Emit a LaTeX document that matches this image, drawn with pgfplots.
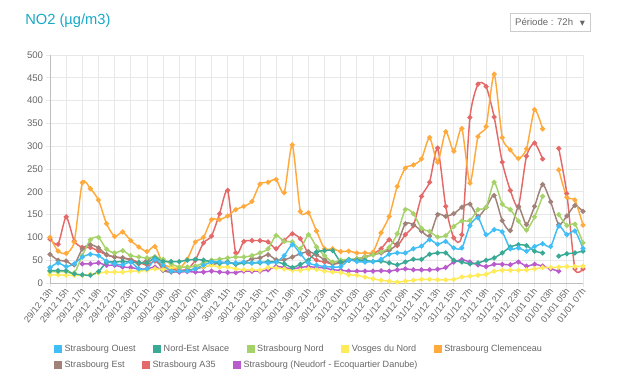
\documentclass[border=0pt]{standalone}
\usepackage{pgfplots}
\usepackage{pgfplotstable}
\pgfplotsset{compat=1.18}
\usepackage{fontspec}
\setmainfont{Liberation Sans}
\newfontfamily\dejavu{DejaVu Sans}

\definecolor{cOuest}{RGB}{64,190,245}
\definecolor{cNEA}{RGB}{58,170,150}
\definecolor{cNord}{RGB}{165,210,105}
\definecolor{cVosges}{RGB}{255,234,90}
\definecolor{cClem}{RGB}{255,170,60}
\definecolor{cEst}{RGB}{160,130,120}
\definecolor{cA35}{RGB}{228,105,105}
\definecolor{cNeud}{RGB}{185,90,205}
\definecolor{txtgray}{RGB}{102,102,102}
\definecolor{gridgray}{RGB}{232,232,232}
\definecolor{titlecyan}{RGB}{23,169,198}

\pgfplotstableread{
i ouest nea nord vosges clem est a35 neud
0 34 27 25 18 100 63 96 nan
1 44 27 25 18 70 50 85 nan
2 36 27 25 17 65 48 145 nan
3 42 20 22 17 90 40 92 nan
4 57 18 60 17 220 75 78 42
5 63 17 95 19 207 84 78 42
6 60 25 100 22 182 77 70 44
7 48 45 74 24 130 62 62 39
8 42 46 66 24 102 57 57 39
9 40 47 71 24 112 55 55 35
10 46 46 60 26 93 50 52 34
11 31 45 57 26 79 42 45 31
12 31 44 55 28 69 50 40 31
13 51 55 57 31 80 57 48 35
14 39 47 52 30 42 28 35 28
15 26 47 42 33 35 24 30 25
16 26 47 35 35 32 26 28 24
17 26 50 35 35 52 28 30 25
18 31 52 37 36 90 31 50 24
19 39 50 44 36 100 35 88 24
20 46 47 50 39 139 40 103 26
21 46 43 52 35 139 44 152 24
22 44 46 55 35 147 45 203 23
23 44 41 57 31 161 43 66 23
24 46 44 57 29 168 45 91 26
25 44 44 60 29 179 53 93 26
26 46 44 66 28 217 55 93 26
27 44 47 75 34 221 62 90 29
28 46 46 104 33 227 51 75 36
29 60 42 91 31 198 51 93 34
30 84 34 90 28 303 57 108 31
31 64 41 75 28 157 64 97 34
32 44 50 106 31 154 69 64 36
33 39 68 79 30 114 62 50 34
34 36 71 60 26 75 51 46 33
35 35 71 46 24 75 42 42 29
36 36 46 50 23 69 44 46 28
37 50 51 52 18 70 50 50 26
38 47 50 53 17 66 53 51 26
39 46 50 57 13 66 57 57 26
40 47 47 62 9 68 62 64 26
41 52 48 68 6 110 66 75 27
42 63 44 78 4 146 72 95 26
43 66 40 108 2 212 86 82 29
44 66 46 161 4 252 130 106 31
45 75 52 152 6 259 128 126 29
46 81 52 120 8 272 114 190 29
47 95 63 113 8 319 103 221 29
48 85 66 101 7 265 150 296 30
49 91 66 104 7 332 146 168 34
50 77 50 124 8 289 152 99 46
51 77 46 136 13 339 166 106 51
52 126 42 137 15 219 173 363 46
53 143 44 161 17 321 146 436 40
54 106 50 166 19 343 166 431 36
55 117 55 221 26 458 192 364 41
56 112 66 173 28 319 137 265 41
57 75 79 161 28 292 115 203 40
58 77 84 136 28 273 167 168 46
59 70 82 116 29 294 128 278 37
60 80 70 145 31 380 168 307 41
61 86 66 190 34 338 216 272 37
62 80 nan nan 34 nan 178 nan 31
63 125 59 150 35 248 128 295 26
64 106 64 126 36 188 147 196 nan
65 114 66 129 36 182 170 31 nan
66 76 70 88 37 127 157 31 nan
}\datatable

\pgfplotsset{
  serie/.style={color=#1, mark=*, mark size=1.3pt, line width=1.1pt, smooth, tension=0.4,
    mark options={solid, fill=#1, draw=#1}},
  legbox/.style={
    hide axis, scale only axis, width=399.75pt, height=171pt,
    at={(37.5pt,69pt)}, anchor=south west,
    xmin=0, xmax=1, ymin=0, ymax=1,
    legend columns=-1,
    legend image code/.code={\fill[##1] (0pt,-2.6pt) rectangle (5.2pt,2.6pt);},
    legend style={draw=none, fill=none, inner sep=0pt, anchor=west,
      font=\fontsize{6.8}{8}\selectfont, text=txtgray,
      nodes={inner xsep=2.2pt, inner ysep=1pt},
      /tikz/every even column/.append style={column sep=11pt}},
  },
}

\begin{document}
\begin{tikzpicture}
\useasboundingbox (0,0) rectangle (472.5pt,281.25pt);

\node[anchor=west, text=titlecyan, font=\fontsize{11}{13}\selectfont] at (15.5pt,266pt) {NO2 (µg/m3)};
\node[draw={rgb,255:red,204;green,204;blue,204}, line width=0.6pt, minimum width=60pt, minimum height=13.5pt, inner sep=0pt, text=txtgray]
  at (412.5pt,264.75pt) {\fontsize{7.2}{9}\selectfont Période : 72h\hspace{5pt}{\dejavu\fontsize{5}{6}\selectfont ▼}};

\begin{axis}[
  scale only axis, width=399.75pt, height=171pt,
  at={(37.5pt,69pt)}, anchor=south west,
  xmin=0, xmax=66, ymin=0, ymax=500,
  unbounded coords=jump,
  xtick={0,2,...,66},
  xticklabels={29/12 13h,29/12 15h,29/12 17h,29/12 19h,29/12 21h,29/12 23h,
    30/12 01h,30/12 03h,30/12 05h,30/12 07h,30/12 09h,30/12 11h,30/12 13h,30/12 15h,30/12 17h,30/12 19h,30/12 21h,30/12 23h,
    31/12 01h,31/12 03h,31/12 05h,31/12 07h,31/12 09h,31/12 11h,31/12 13h,31/12 15h,31/12 17h,31/12 19h,31/12 21h,31/12 23h,
    01/01 01h,01/01 03h,01/01 05h,01/01 07h},
  ytick={0,50,...,500},
  grid=major,
  major grid style={draw=gridgray, line width=0.6pt},
  axis x line*=bottom, axis y line*=left,
  axis line style={draw={rgb,255:red,190;green,190;blue,190}, line width=0.7pt, -},
  tick align=outside, major tick length=3pt,
  tick style={draw=gridgray, line width=0.6pt},
  xticklabel style={rotate=52, anchor=east, font=\fontsize{6.8}{8}\selectfont, text=txtgray, inner sep=1pt, yshift=-1.5pt},
  yticklabel style={font=\fontsize{7.2}{8}\selectfont, text=txtgray, inner sep=2pt},
  /pgf/number format/assume math mode=true,
  clip=true,
]
\addplot[serie=cNeud] table[x=i, y=neud] {\datatable};
\addplot[serie=cA35] table[x=i, y=a35] {\datatable};
\addplot[serie=cEst] table[x=i, y=est] {\datatable};
\addplot[serie=cClem] table[x=i, y=clem] {\datatable};
\addplot[serie=cVosges] table[x=i, y=vosges] {\datatable};
\addplot[serie=cNord] table[x=i, y=nord] {\datatable};
\addplot[serie=cNEA] table[x=i, y=nea] {\datatable};
\addplot[serie=cOuest] table[x=i, y=ouest] {\datatable};
\end{axis}

\begin{axis}[legbox, legend style={at={(0.0075,-0.2895)}}]
\addlegendimage{cOuest}\addlegendentry{Strasbourg Ouest}
\addlegendimage{cNEA}\addlegendentry{Nord-Est Alsace}
\addlegendimage{cNord}\addlegendentry{Strasbourg Nord}
\addlegendimage{cVosges}\addlegendentry{Vosges du Nord}
\addlegendimage{cClem}\addlegendentry{Strasbourg Clemenceau}
\end{axis}

\begin{axis}[legbox, legend style={at={(0.0075,-0.3596)}}]
\addlegendimage{cEst}\addlegendentry{Strasbourg Est}
\addlegendimage{cA35}\addlegendentry{Strasbourg A35}
\addlegendimage{cNeud}\addlegendentry{Strasbourg (Neudorf - Ecoquartier Danube)}
\end{axis}
\end{tikzpicture}
\end{document}
